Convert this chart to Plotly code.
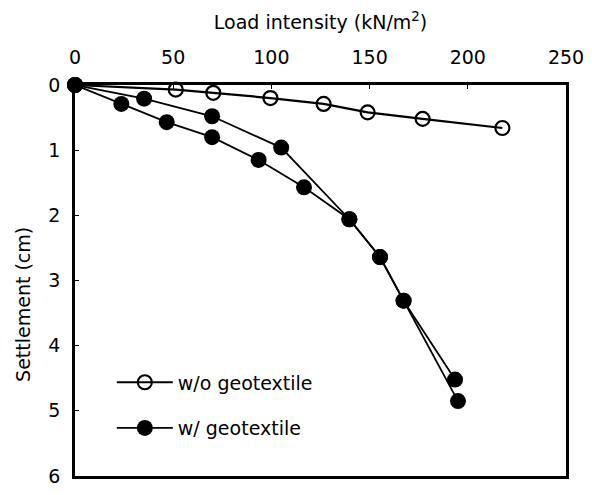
import plotly.graph_objects as go

# Load (kN/m^2) vs settlement (cm)
load_without = [0, 51.3, 70.4, 99.5, 126.6, 149.0, 177.0, 217.6]
settle_without = [0, 0.07, 0.12, 0.20, 0.29, 0.42, 0.52, 0.66]

load_with_a = [0, 35.2, 69.8, 105.0, 139.7, 155.3, 167.3, 193.5]
settle_with_a = [0, 0.21, 0.48, 0.96, 2.06, 2.64, 3.31, 4.52]

load_with_b = [0, 23.6, 46.7, 69.8, 93.5, 116.6, 139.7, 155.3, 167.3, 195.0]
settle_with_b = [0, 0.29, 0.57, 0.80, 1.15, 1.57, 2.06, 2.64, 3.31, 4.85]

x_ticks = [0, 50, 100, 150, 200, 250]
y_ticks = [0, 1, 2, 3, 4, 5, 6]

FONT = "DejaVu Sans, Arial, sans-serif"

fig = go.Figure()
fig.add_trace(go.Scatter(
    x=load_without, y=settle_without, mode="lines+markers",
    name="w/o geotextile", legendgroup="a",
    line=dict(color="black", width=2.2),
    marker=dict(symbol="circle-open", size=14, color="black", line=dict(width=2.2)),
    cliponaxis=False,
))
fig.add_trace(go.Scatter(
    x=load_with_a, y=settle_with_a, mode="lines+markers",
    name="w/ geotextile", legendgroup="b",
    line=dict(color="black", width=1.8),
    marker=dict(symbol="circle", size=16, color="black"),
    cliponaxis=False,
))
fig.add_trace(go.Scatter(
    x=load_with_b, y=settle_with_b, mode="lines+markers",
    name="w/ geotextile", legendgroup="b", showlegend=False,
    line=dict(color="black", width=1.8),
    marker=dict(symbol="circle", size=16, color="black"),
    cliponaxis=False,
))

fig.update_layout(
    width=592, height=495,
    margin=dict(l=75, r=19, t=85, b=8),
    paper_bgcolor="white", plot_bgcolor="white",
    font=dict(family=FONT, color="black", size=19),
    showlegend=True,
    legend=dict(
        x=0.075, y=0.288, xanchor="left", yanchor="top",
        bgcolor="rgba(0,0,0,0)", font=dict(size=19),
        tracegroupgap=18, traceorder="grouped", itemwidth=56,
    ),
    xaxis=dict(
        side="top", range=[0, 250], tickvals=x_ticks,
        showgrid=False, zeroline=False,
        showline=True, linecolor="black", linewidth=2.8, mirror=True,
        ticks="inside", ticklen=4, tickcolor="black",
        ticklabelstandoff=11,
        tickfont=dict(size=19),
        title=dict(text="Load intensity (kN/m<sup>2</sup>)", font=dict(size=19), standoff=11),
    ),
    yaxis=dict(
        range=[6, 0], tickvals=y_ticks,
        showgrid=False, zeroline=False,
        showline=True, linecolor="black", linewidth=2.8, mirror=True,
        ticks="inside", ticklen=4, tickcolor="black",
        ticklabelstandoff=8,
        tickfont=dict(size=19),
    ),
    annotations=[dict(
        text="Settlement (cm)", textangle=-90,
        xref="paper", yref="paper", x=-0.106, y=0.44,
        xanchor="center", yanchor="middle", showarrow=False,
        font=dict(size=19),
    )],
)

fig.write_html("out.html")
